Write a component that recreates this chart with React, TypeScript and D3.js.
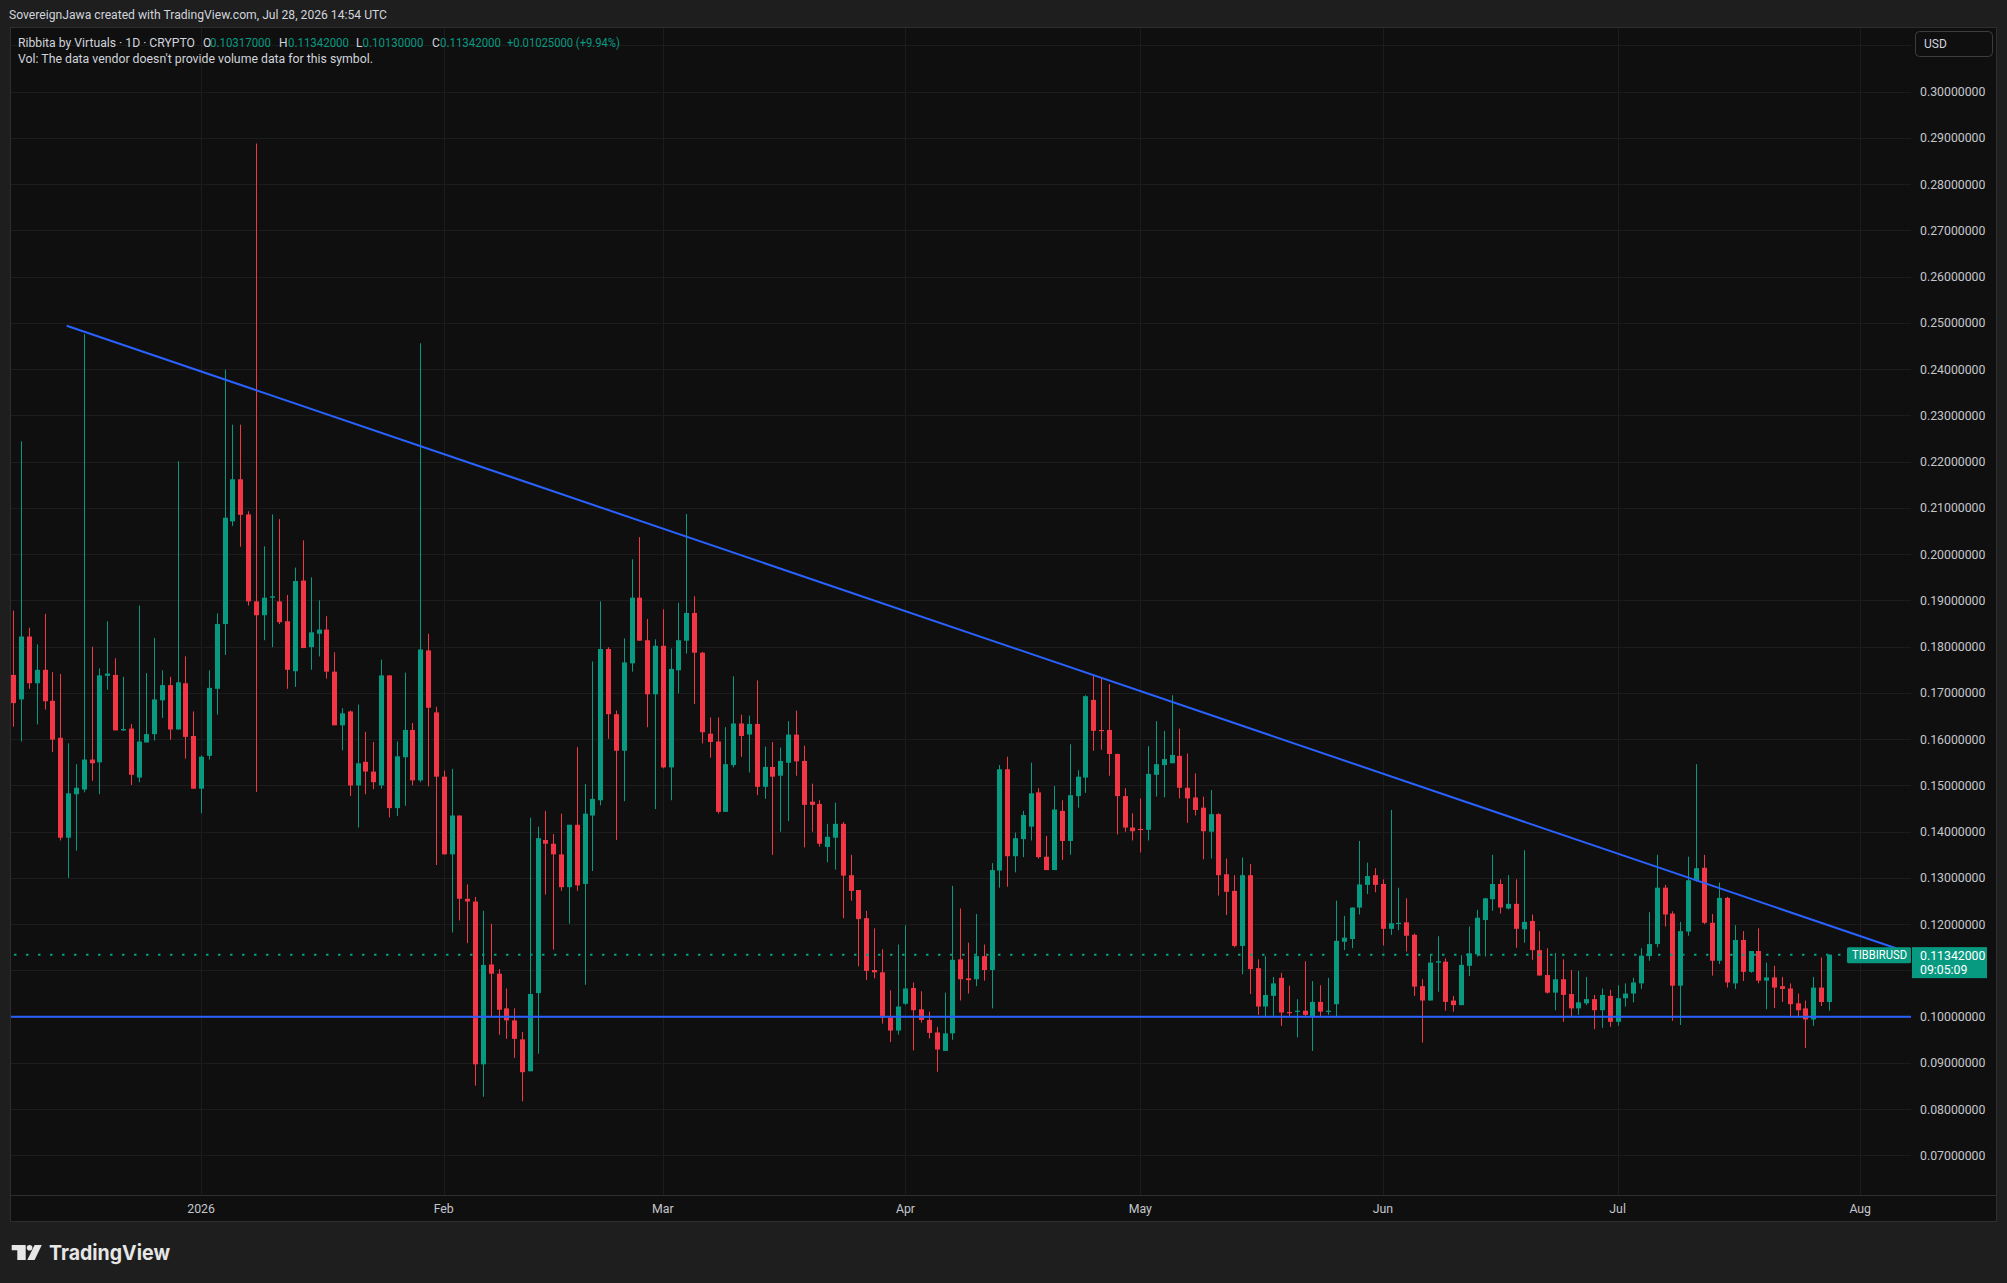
import React from 'react';
import * as d3 from 'd3';

// ---------- DATA ----------
const START_DATE = '2025-12-08T00:00:00Z'; // first daily candle

const opens = [
  0.1739, 0.1686, 0.1822, 0.1721, 0.1750, 0.1683, 0.1603, 0.1387, 0.1481, 0.1491,
  0.1556, 0.1550, 0.1737, 0.1739, 0.1619, 0.1623, 0.1517, 0.1593, 0.1611, 0.1684,
  0.1717, 0.1621, 0.1721, 0.1607, 0.1493, 0.1564, 0.1709, 0.1849, 0.2071, 0.2162,
  0.2086, 0.1898, 0.1868, 0.1906, 0.1898, 0.1855, 0.1747, 0.1943, 0.1799, 0.1828,
  0.1837, 0.1746, 0.1630, 0.1660, 0.1500, 0.1551, 0.1530, 0.1500, 0.1738, 0.1451,
  0.1561, 0.1620, 0.1511, 0.1792, 0.1658, 0.1519, 0.1351, 0.1435, 0.1255, 0.1249,
  0.0897, 0.1113, 0.1093, 0.1018, 0.0992, 0.0951, 0.0882, 0.1051, 0.1382, 0.1374,
  0.1351, 0.1280, 0.1415, 0.1287, 0.1435, 0.1468, 0.1795, 0.1654, 0.1575, 0.1764,
  0.1906, 0.1814, 0.1697, 0.1802, 0.1539, 0.1749, 0.1813, 0.1873, 0.1787, 0.1612,
  0.1595, 0.1443, 0.1544, 0.1634, 0.1610, 0.1633, 0.1497, 0.1540, 0.1521, 0.1549,
  0.1610, 0.1553, 0.1465, 0.1460, 0.1367, 0.1387, 0.1417, 0.1306, 0.1274, 0.1213,
  0.1101, 0.1096, 0.0998, 0.0970, 0.1028, 0.1062, 0.1016, 0.0993, 0.0966, 0.0926,
  0.0964, 0.1124, 0.1083, 0.1081, 0.1131, 0.1101, 0.1316, 0.1535, 0.1347, 0.1384,
  0.1411, 0.1485, 0.1346, 0.1317, 0.1445, 0.1380, 0.1477, 0.1517, 0.1685, 0.1620,
  0.1620, 0.1568, 0.1477, 0.1409, 0.1406, 0.1404, 0.1523, 0.1544, 0.1548, 0.1564,
  0.1495, 0.1474, 0.1452, 0.1400, 0.1438, 0.1308, 0.1272, 0.1153, 0.1306, 0.1105,
  0.1022, 0.1045, 0.1084, 0.1010, 0.1011, 0.1013, 0.0999, 0.1032, 0.1011, 0.1027,
  0.1162, 0.1168, 0.1236, 0.1285, 0.1306, 0.1287, 0.1190, 0.1202, 0.1204, 0.1177,
  0.1066, 0.1035, 0.1117, 0.1119, 0.1035, 0.1025, 0.1110, 0.1135, 0.1209, 0.1254,
  0.1287, 0.1234, 0.1244, 0.1189, 0.1207, 0.1144, 0.1090, 0.1052, 0.1081, 0.1049,
  0.1018, 0.1029, 0.1038, 0.1014, 0.1045, 0.0989, 0.1040, 0.1050, 0.1072, 0.1131,
  0.1157, 0.1279, 0.1223, 0.1067, 0.1184, 0.1294, 0.1322, 0.1203, 0.1121, 0.1257,
  0.1072, 0.1166, 0.1097, 0.1142, 0.1078, 0.1085, 0.1066, 0.1061, 0.1029, 0.1018,
  0.0994, 0.1063, 0.10317,
];

const highs = [
  0.1878, 0.2244, 0.1841, 0.1805, 0.1871, 0.1745, 0.1741, 0.1591, 0.1546, 0.2476,
  0.1800, 0.1753, 0.1855, 0.1775, 0.1735, 0.1633, 0.1889, 0.1743, 0.1819, 0.1749,
  0.1735, 0.2201, 0.1779, 0.1660, 0.1565, 0.1749, 0.1872, 0.2399, 0.2280, 0.2280,
  0.2093, 0.2888, 0.2017, 0.2086, 0.2076, 0.1912, 0.1971, 0.2030, 0.1950, 0.1900,
  0.1866, 0.1788, 0.1667, 0.1662, 0.1675, 0.1616, 0.1594, 0.1772, 0.1738, 0.1595,
  0.1744, 0.1635, 0.2456, 0.1828, 0.1670, 0.1532, 0.1536, 0.1435, 0.1286, 0.1259,
  0.1229, 0.1201, 0.1103, 0.1061, 0.1018, 0.0967, 0.1430, 0.1411, 0.1445, 0.1395,
  0.1439, 0.1415, 0.1583, 0.1503, 0.1768, 0.1898, 0.1799, 0.1662, 0.1818, 0.1989,
  0.2037, 0.1860, 0.1816, 0.1881, 0.1796, 0.1895, 0.2087, 0.1909, 0.1789, 0.1647,
  0.1647, 0.1626, 0.1736, 0.1653, 0.1651, 0.1727, 0.1584, 0.1594, 0.1582, 0.1639,
  0.1662, 0.1586, 0.1504, 0.1468, 0.1417, 0.1463, 0.1421, 0.1350, 0.1274, 0.1229,
  0.1191, 0.1146, 0.1057, 0.1156, 0.1198, 0.1074, 0.1055, 0.1011, 0.0978, 0.1052,
  0.1283, 0.1234, 0.1160, 0.1222, 0.1156, 0.1332, 0.1544, 0.1562, 0.1398, 0.1445,
  0.1549, 0.1494, 0.1391, 0.1499, 0.1468, 0.1589, 0.1533, 0.1695, 0.1739, 0.1732,
  0.1719, 0.1569, 0.1494, 0.1440, 0.1472, 0.1585, 0.1639, 0.1618, 0.1695, 0.1623,
  0.1569, 0.1526, 0.1476, 0.1490, 0.1440, 0.1342, 0.1306, 0.1344, 0.1330, 0.1124,
  0.1131, 0.1086, 0.1095, 0.1067, 0.1038, 0.1120, 0.1077, 0.1068, 0.1084, 0.1251,
  0.1218, 0.1236, 0.1380, 0.1333, 0.1321, 0.1297, 0.1447, 0.1279, 0.1256, 0.1180,
  0.1081, 0.1133, 0.1174, 0.1126, 0.1045, 0.1133, 0.1195, 0.1231, 0.1257, 0.1350,
  0.1297, 0.1306, 0.1297, 0.1360, 0.1221, 0.1185, 0.1148, 0.1138, 0.1124, 0.1101,
  0.1099, 0.1086, 0.1047, 0.1061, 0.1058, 0.1068, 0.1072, 0.1084, 0.1148, 0.1226,
  0.1350, 0.1285, 0.1228, 0.1205, 0.1346, 0.1546, 0.1350, 0.1222, 0.1290, 0.1259,
  0.1198, 0.1185, 0.1142, 0.1191, 0.1117, 0.1110, 0.1086, 0.1072, 0.1050, 0.1035,
  0.1086, 0.1128, 0.11342,
];

const lows = [
  0.1627, 0.1595, 0.1709, 0.1632, 0.1664, 0.1572, 0.1381, 0.1300, 0.1359, 0.1485,
  0.1510, 0.1481, 0.1707, 0.1619, 0.1618, 0.1501, 0.1507, 0.1593, 0.1597, 0.1646,
  0.1599, 0.1621, 0.1558, 0.1493, 0.1440, 0.1556, 0.1653, 0.1782, 0.2061, 0.2016,
  0.1889, 0.1486, 0.1814, 0.1799, 0.1849, 0.1709, 0.1713, 0.1797, 0.1750, 0.1779,
  0.1731, 0.1630, 0.1576, 0.1477, 0.1409, 0.1481, 0.1492, 0.1493, 0.1431, 0.1434,
  0.1456, 0.1500, 0.1507, 0.1498, 0.1328, 0.1351, 0.1182, 0.1208, 0.1159, 0.0851,
  0.0827, 0.1001, 0.0961, 0.0952, 0.0911, 0.0817, 0.0882, 0.0920, 0.1264, 0.1145,
  0.1272, 0.1201, 0.1272, 0.1069, 0.1315, 0.1457, 0.1601, 0.1382, 0.1466, 0.1746,
  0.1813, 0.1626, 0.1449, 0.1537, 0.1468, 0.1699, 0.1785, 0.1676, 0.1591, 0.1560,
  0.1439, 0.1443, 0.1539, 0.1562, 0.1528, 0.1479, 0.1471, 0.1350, 0.1400, 0.1423,
  0.1521, 0.1366, 0.1400, 0.1368, 0.1334, 0.1318, 0.1213, 0.1251, 0.1109, 0.1079,
  0.1083, 0.0985, 0.0945, 0.0961, 0.1025, 0.0927, 0.0987, 0.0953, 0.0881, 0.0926,
  0.0950, 0.1035, 0.1050, 0.1066, 0.1078, 0.1018, 0.1279, 0.1281, 0.1312, 0.1345,
  0.1381, 0.1342, 0.1317, 0.1317, 0.1339, 0.1350, 0.1452, 0.1484, 0.1575, 0.1577,
  0.1521, 0.1394, 0.1400, 0.1381, 0.1355, 0.1381, 0.1476, 0.1474, 0.1548, 0.1472,
  0.1419, 0.1435, 0.1340, 0.1342, 0.1262, 0.1220, 0.1150, 0.1092, 0.1049, 0.1004,
  0.1001, 0.1001, 0.0980, 0.1000, 0.0955, 0.1000, 0.0926, 0.1001, 0.1004, 0.1000,
  0.1144, 0.1148, 0.1221, 0.1265, 0.1269, 0.1154, 0.1177, 0.1187, 0.1141, 0.1045,
  0.0944, 0.1035, 0.1054, 0.1013, 0.1011, 0.1025, 0.1088, 0.1130, 0.1130, 0.1229,
  0.1223, 0.1232, 0.1149, 0.1160, 0.1123, 0.1089, 0.1050, 0.1014, 0.0989, 0.0999,
  0.1004, 0.1025, 0.0973, 0.0976, 0.0978, 0.0980, 0.1022, 0.1031, 0.1060, 0.1121,
  0.1150, 0.1195, 0.0991, 0.0982, 0.1175, 0.1292, 0.1200, 0.1089, 0.1114, 0.1063,
  0.1060, 0.1077, 0.1095, 0.1072, 0.1016, 0.1019, 0.1032, 0.1001, 0.1001, 0.0932,
  0.0980, 0.1023, 0.10130,
];

const closes = [
  0.1678, 0.1822, 0.1721, 0.1750, 0.1682, 0.1599, 0.1387, 0.1483, 0.1495, 0.1556,
  0.1548, 0.1738, 0.1742, 0.1619, 0.1622, 0.1523, 0.1595, 0.1611, 0.1686, 0.1717,
  0.1621, 0.1723, 0.1605, 0.1493, 0.1562, 0.1711, 0.1849, 0.2079, 0.2162, 0.2085,
  0.1898, 0.1868, 0.1906, 0.1909, 0.1853, 0.1750, 0.1942, 0.1797, 0.1831, 0.1837,
  0.1746, 0.1630, 0.1656, 0.1500, 0.1548, 0.1530, 0.1507, 0.1738, 0.1451, 0.1563,
  0.1620, 0.1511, 0.1794, 0.1668, 0.1519, 0.1351, 0.1435, 0.1255, 0.1249, 0.0897,
  0.1112, 0.1093, 0.1015, 0.0992, 0.0952, 0.0880, 0.1049, 0.1386, 0.1374, 0.1351,
  0.1280, 0.1415, 0.1284, 0.1439, 0.1471, 0.1795, 0.1654, 0.1575, 0.1766, 0.1906,
  0.1813, 0.1697, 0.1802, 0.1539, 0.1752, 0.1814, 0.1873, 0.1787, 0.1615, 0.1594,
  0.1443, 0.1546, 0.1634, 0.1607, 0.1633, 0.1497, 0.1540, 0.1519, 0.1553, 0.1610,
  0.1552, 0.1458, 0.1458, 0.1374, 0.1389, 0.1417, 0.1305, 0.1272, 0.1211, 0.1099,
  0.1096, 0.0998, 0.0970, 0.1022, 0.1061, 0.1014, 0.0993, 0.0965, 0.0929, 0.0964,
  0.1123, 0.1081, 0.1079, 0.1131, 0.1101, 0.1317, 0.1535, 0.1347, 0.1386, 0.1436,
  0.1483, 0.1345, 0.1317, 0.1448, 0.1380, 0.1479, 0.1519, 0.1693, 0.1618, 0.1618,
  0.1568, 0.1477, 0.1409, 0.1401, 0.1404, 0.1525, 0.1546, 0.1557, 0.1566, 0.1495,
  0.1472, 0.1447, 0.1401, 0.1438, 0.1306, 0.1270, 0.1153, 0.1306, 0.1103, 0.1022,
  0.1047, 0.1072, 0.1009, 0.1008, 0.1013, 0.1004, 0.1032, 0.1011, 0.1013, 0.1164,
  0.1171, 0.1236, 0.1286, 0.1304, 0.1285, 0.1190, 0.1202, 0.1203, 0.1175, 0.1065,
  0.1035, 0.1117, 0.1120, 0.1032, 0.1025, 0.1112, 0.1137, 0.1214, 0.1256, 0.1287,
  0.1236, 0.1244, 0.1190, 0.1205, 0.1144, 0.1089, 0.1052, 0.1081, 0.1047, 0.1018,
  0.1031, 0.1038, 0.1014, 0.1047, 0.0989, 0.1040, 0.1050, 0.1074, 0.1132, 0.1157,
  0.1279, 0.1221, 0.1067, 0.1185, 0.1295, 0.1321, 0.1203, 0.1121, 0.1257, 0.1074,
  0.1166, 0.1097, 0.1142, 0.1078, 0.1085, 0.1063, 0.1060, 0.1027, 0.1014, 0.0994,
  0.1063, 0.10317, 0.11342,
];

const priceTicks = [0.07, 0.08, 0.09, 0.1, 0.11, 0.12, 0.13, 0.14, 0.15, 0.16, 0.17, 0.18,
  0.19, 0.2, 0.21, 0.22, 0.23, 0.24, 0.25, 0.26, 0.27, 0.28, 0.29, 0.3];
const gridPrices = [...priceTicks, 0.31];

const monthTickDates = ['2026-01-01', '2026-02-01', '2026-03-01', '2026-04-01', '2026-05-01',
  '2026-06-01', '2026-07-01', '2026-08-01'];
const monthTickLabels = ['2026', 'Feb', 'Mar', 'Apr', 'May', 'Jun', 'Jul', 'Aug'];

const trendLinePoints = [
  { date: '2025-12-14T19:40:00Z', price: 0.2494 },
  { date: '2026-08-05T13:30:00Z', price: 0.1148 },
];
const supportPrice = 0.1;
const lastPrice = 0.11342;

const titleText = 'SovereignJawa created with TradingView.com, Jul 28, 2026 14:54 UTC';
const symbolText = 'Ribbita by Virtuals · 1D · CRYPTO';
const ohlcLabels = ['O', 'H', 'L', 'C'];
const ohlcValues = ['0.10317000', '0.11342000', '0.10130000', '0.11342000'];
const changeText = '+0.01025000 (+9.94%)';
const volText = "Vol: The data vendor doesn't provide volume data for this symbol.";

// ---------- STYLE ----------
const W = 2007;
const H = 1283;
const GREEN = '#089981';
const RED = '#f23645';
const BLUE = '#2962ff';
const PAGE_BG = '#1e1e1e';
const CHART_BG = '#0f0f0f';
const GRID = '#1c1c1c';
const BORDER = '#2e2e2e';
const TEXT = '#d1d4dc';
const AXIS_TEXT = '#c4c6cc';
const FONT = 'Roboto, "Liberation Sans", sans-serif';

const FRAME = { left: 10, top: 27, right: 1997, bottom: 1222 };
const PLOT_RIGHT = 1911;
const PLOT_BOTTOM = 1195;

export default function App() {
  const start = new Date(START_DATE);
  const x = d3
    .scaleUtc()
    .domain([start, new Date('2026-08-01T00:00:00Z')])
    .range([13.3, 1860.2]);
  const y = d3.scaleLinear().domain([0.1, 0.3]).range([1016.7, 91.7]);

  const trendPath = d3
    .line<{ date: string; price: number }>()
    .x((d) => x(new Date(d.date)))
    .y((d) => y(d.price))(trendLinePoints) as string;

  const lastY = y(lastPrice);
  const boxTop = lastY - 7.5;
  const boxBottom = boxTop + 31;
  // axis labels hidden behind the last-price box are not drawn (as in the reference)
  const visibleTicks = priceTicks.filter((p) => {
    const ty = y(p);
    return ty + 7 < boxTop || ty - 7 > boxBottom;
  });

  const ohlcX = [203, 279, 356, 432];
  const ohlcValX = [210, 288, 362.5, 440];

  return (
    <svg
      width={W}
      height={H}
      viewBox={`0 0 ${W} ${H}`}
      style={{ position: 'absolute', left: 0, top: 0, display: 'block' }}
      fontFamily={FONT}
    >
      <defs>
        <clipPath id="plotClip">
          <rect x={FRAME.left + 1} y={FRAME.top + 1} width={PLOT_RIGHT - FRAME.left - 1} height={PLOT_BOTTOM - FRAME.top - 1} />
        </clipPath>
      </defs>
      <rect x={0} y={0} width={W} height={H} fill={PAGE_BG} />

      {/* title */}
      <text x={9} y={19} fontSize={12} fill={TEXT} textLength={378} lengthAdjust="spacingAndGlyphs">
        {titleText}
      </text>

      {/* chart frame */}
      <rect
        x={FRAME.left + 0.5}
        y={FRAME.top + 0.5}
        width={FRAME.right - FRAME.left - 1}
        height={FRAME.bottom - FRAME.top - 1}
        fill={CHART_BG}
        stroke={BORDER}
        strokeWidth={1}
      />

      {/* grid */}
      <g clipPath="url(#plotClip)">
        {gridPrices.map((p) => (
          <line key={'h' + p} x1={FRAME.left} x2={PLOT_RIGHT} y1={Math.round(y(p)) + 0.5} y2={Math.round(y(p)) + 0.5} stroke={GRID} strokeWidth={1} />
        ))}
        {monthTickDates.map((d) => {
          const xx = Math.round(x(new Date(d + 'T00:00:00Z'))) + 0.5;
          return <line key={'v' + d} x1={xx} x2={xx} y1={FRAME.top} y2={PLOT_BOTTOM} stroke={GRID} strokeWidth={1} />;
        })}
      </g>

      {/* axis separators */}
      <line x1={FRAME.left} x2={FRAME.right} y1={PLOT_BOTTOM + 0.5} y2={PLOT_BOTTOM + 0.5} stroke={BORDER} strokeWidth={1} />

      {/* candles */}
      <g clipPath="url(#plotClip)">
        {opens.map((o, i) => {
          const d = d3.utcDay.offset(start, i);
          const cx = Math.round(x(d));
          const c = closes[i];
          const up = c >= o;
          const color = up ? GREEN : RED;
          const yTop = y(Math.max(o, c));
          const yBot = y(Math.min(o, c));
          const bh = Math.max(1.2, yBot - yTop);
          return (
            <g key={i}>
              <line x1={cx + 0.5} x2={cx + 0.5} y1={y(highs[i])} y2={y(lows[i])} stroke={color} strokeWidth={1} />
              <rect x={cx - 2} y={yTop} width={5} height={bh} fill={color} />
            </g>
          );
        })}

        {/* current price dotted line */}
        <line
          x1={FRAME.left + 4}
          x2={1846}
          y1={lastY}
          y2={lastY}
          stroke={GREEN}
          strokeWidth={2}
          strokeDasharray="2.5 9.5"
        />

        {/* horizontal support */}
        <line x1={FRAME.left} x2={PLOT_RIGHT} y1={y(supportPrice)} y2={y(supportPrice)} stroke={BLUE} strokeWidth={2} />
        {/* descending trendline */}
        <path d={trendPath} stroke={BLUE} strokeWidth={2} fill="none" />
      </g>

      {/* legend */}
      <text x={18} y={47} fontSize={12} fill={TEXT} textLength={177} lengthAdjust="spacingAndGlyphs">
        {symbolText}
      </text>
      {ohlcLabels.map((l, i) => (
        <g key={l}>
          <text x={ohlcX[i]} y={47} fontSize={12} fill={TEXT}>
            {l}
          </text>
          <text x={ohlcValX[i]} y={47} fontSize={12} fill={GREEN} textLength={61} lengthAdjust="spacingAndGlyphs">
            {ohlcValues[i]}
          </text>
        </g>
      ))}
      <text x={507} y={47} fontSize={12} fill={GREEN} textLength={113} lengthAdjust="spacingAndGlyphs">
        {changeText}
      </text>
      <text x={18} y={63} fontSize={12} fill={TEXT} textLength={355} lengthAdjust="spacingAndGlyphs">
        {volText}
      </text>

      {/* price axis labels */}
      {visibleTicks.map((p) => (
        <text key={'t' + p} x={1920} y={y(p) + 4.3} fontSize={12.3} fill={AXIS_TEXT}>
          {d3.format('.8f')(p)}
        </text>
      ))}

      {/* USD button */}
      <rect x={1915.5} y={31.5} width={77} height={25} rx={4} fill={CHART_BG} stroke="#3d3d3d" strokeWidth={1} />
      <text x={1924} y={48} fontSize={12} fill={TEXT}>
        USD
      </text>

      {/* symbol + last price labels */}
      <rect x={1847} y={boxTop} width={64} height={16} rx={1.5} fill={GREEN} />
      <text x={1879.5} y={lastY + 4.3} fontSize={12} fill="#ffffff" textAnchor="middle" textLength={55} lengthAdjust="spacingAndGlyphs">
        TIBBIRUSD
      </text>
      <rect x={1912} y={boxTop} width={75} height={31} fill={GREEN} />
      <text x={1920} y={lastY + 5} fontSize={12.3} fill="#ffffff">
        {d3.format('.8f')(lastPrice)}
      </text>
      <text x={1920} y={lastY + 19} fontSize={12.3} fill="#ffffff">
        09:05:09
      </text>

      {/* time axis labels */}
      {monthTickDates.map((d, i) => (
        <text
          key={'m' + d}
          x={x(new Date(d + 'T00:00:00Z'))}
          y={1213}
          fontSize={12.3}
          fill={AXIS_TEXT}
          textAnchor="middle"
        >
          {monthTickLabels[i]}
        </text>
      ))}

      {/* TradingView logo */}
      <g fill="#e6e6e6">
        <path d="M11.7 1245 H25.7 V1260 H17.3 V1250.3 H11.7 Z" />
        <circle cx={29.6} cy={1247.8} r={2.8} />
        <path d="M34.6 1245 H41.8 L34.6 1260 H27.3 Z" />
        <text x={49} y={1260} fontSize={20.5} fontWeight={700} fontFamily='Inter, "Noto Sans", sans-serif' textLength={121} lengthAdjust="spacingAndGlyphs">
          TradingView
        </text>
      </g>
    </svg>
  );
}
